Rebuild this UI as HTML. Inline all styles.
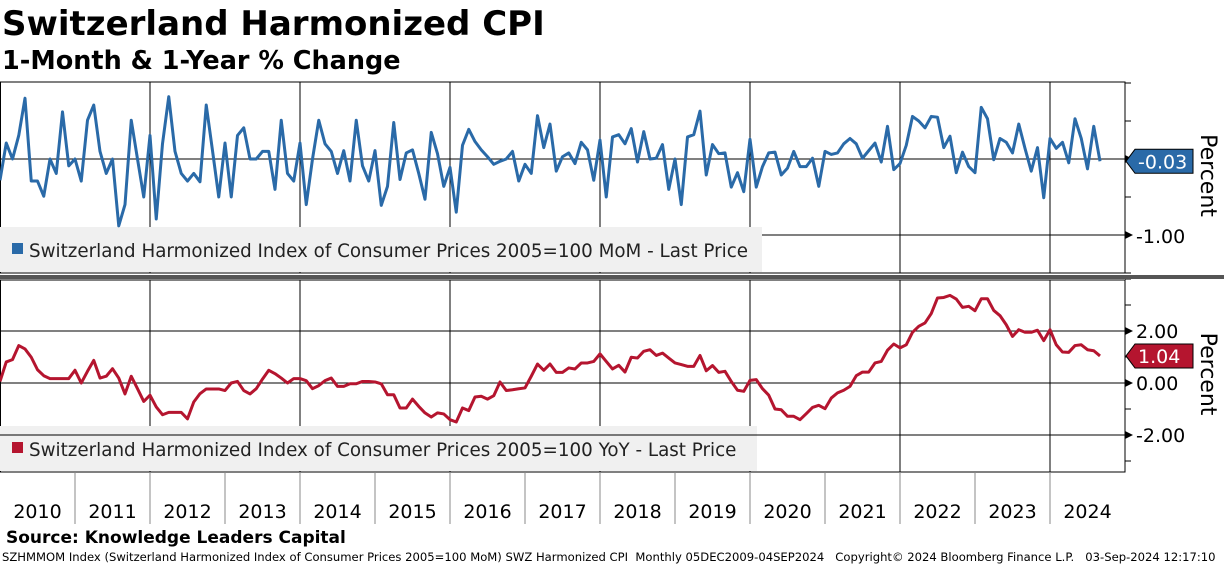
<!DOCTYPE html>
<html><head><meta charset="utf-8">
<style>
html,body{margin:0;padding:0;background:#fff;width:1224px;height:566px;overflow:hidden}
svg{display:block}
text{font-family:"DejaVu Sans","Liberation Sans",sans-serif}
</style></head>
<body>
<svg id="chart" width="1224" height="566" viewBox="0 0 1224 566" xmlns="http://www.w3.org/2000/svg">
<text x="2" y="35" font-size="34" font-weight="bold" fill="#000">Switzerland Harmonized CPI</text>
<text x="2" y="69" font-size="25.5" font-weight="bold" fill="#000">1-Month &amp; 1-Year % Change</text>
<g id="topPanel"></g>
<g id="botPanel"></g>
<rect x="0" y="275" width="1224" height="4" fill="#555"/>
<g id="xaxis"></g>
<text x="6" y="543" font-size="17" font-weight="bold" fill="#000">Source: Knowledge Leaders Capital</text>
<text x="2" y="561" font-size="11.6" fill="#000" style="white-space:pre" xml:space="preserve">SZHMMOM Index (Switzerland Harmonized Index of Consumer Prices 2005=100 MoM) SWZ Harmonized CPI  Monthly 05DEC2009-04SEP2024   Copyright© 2024 Bloomberg Finance L.P.   03-Sep-2024 12:17:10</text>
</svg>
<script>
const momValues=[-0.28,0.21,0,0.31,0.80,-0.29,-0.29,-0.49,0,-0.19,0.62,-0.09,0,-0.29,0.51,0.71,0.1,-0.19,0,-0.88,-0.6,0.51,0,-0.5,0.31,-0.79,0.2,0.82,0.1,-0.19,-0.29,-0.19,-0.3,0.71,0.11,-0.5,0.21,-0.5,0.31,0.41,0,0,0.1,0.1,-0.4,0.51,-0.19,-0.29,0.21,-0.6,0,0.51,0.2,0.1,-0.19,0.11,-0.29,0.51,-0.09,-0.29,0.11,-0.61,-0.36,0.48,-0.27,0.08,0.12,-0.19,-0.53,0.35,0.07,-0.36,-0.11,-0.7,0.18,0.39,0.23,0.12,0.03,-0.07,-0.03,0,0.1,-0.29,-0.07,-0.19,0.57,0.15,0.46,-0.16,0.03,0.08,-0.06,0.22,0.12,-0.28,0.25,-0.5,0.29,0.32,0.2,0.4,-0.04,0.36,0,0.01,0.19,-0.4,0,-0.6,0.29,0.32,0.63,-0.21,0.19,0.07,0.08,-0.37,-0.18,-0.43,0.26,-0.37,-0.1,0.08,0.09,-0.21,-0.12,0.1,-0.1,-0.1,0.01,-0.36,0.1,0.06,0.08,0.2,0.27,0.2,0.01,0.11,0.21,-0.04,0.43,-0.14,-0.06,0.18,0.56,0.5,0.41,0.56,0.55,0.15,0.3,-0.18,0.09,-0.1,-0.18,0.68,0.53,-0.01,0.27,0.22,0.08,0.46,0.14,-0.16,0.15,-0.51,0.27,0.14,0.22,-0.05,0.53,0.27,-0.13,0.43,-0.03];
const yoyValues=[0.06,0.81,0.9,1.44,1.31,0.99,0.51,0.28,0.17,0.17,0.17,0.17,0.49,0,0.45,0.87,0.19,0.26,0.55,0.19,-0.42,0.26,-0.22,-0.71,-0.47,-0.92,-1.22,-1.13,-1.13,-1.13,-1.38,-0.73,-0.41,-0.23,-0.23,-0.23,-0.29,0,0.06,-0.29,-0.42,-0.22,0.15,0.49,0.36,0.19,0,0.17,0.17,0.09,-0.22,-0.1,0.09,0.19,-0.13,-0.13,-0.03,-0.03,0.06,0.06,0.04,-0.03,-0.45,-0.45,-0.96,-0.96,-0.62,-0.9,-1.15,-1.31,-1.15,-1.19,-1.41,-1.5,-0.96,-1.06,-0.54,-0.51,-0.62,-0.49,0.04,-0.29,-0.26,-0.22,-0.19,0.26,0.73,0.49,0.73,0.41,0.41,0.58,0.54,0.77,0.77,0.83,1.12,0.83,0.54,0.68,0.42,0.99,0.96,1.22,1.28,1.06,1.15,0.96,0.77,0.71,0.64,0.64,1.06,0.47,0.67,0.41,0.45,0.06,-0.28,-0.32,0.1,0.13,-0.22,-0.47,-1.0,-1.03,-1.28,-1.28,-1.41,-1.18,-0.94,-0.86,-0.99,-0.58,-0.38,-0.28,-0.13,0.28,0.42,0.42,0.77,0.83,1.26,1.5,1.35,1.47,1.95,2.18,2.31,2.67,3.27,3.29,3.37,3.23,2.91,2.95,2.78,3.24,3.24,2.79,2.59,2.24,1.79,2.05,1.95,1.95,2.03,1.63,2.05,1.47,1.19,1.18,1.44,1.47,1.28,1.24,1.04];
const yearLabels=["2010","2011","2012","2013","2014","2015","2016","2017","2018","2019","2020","2021","2022","2023","2024"];
const momTicks=[-1.00];
const yoyTicks=[2.00,0.00,-2.00];

const NS="http://www.w3.org/2000/svg";
const PW=1125;
function xOf(i){return i*75/12;}
function yTop(v){return 159-v*76;}
function yBot(v){return 383-v*26;}
function mk(tag,attrs,parent){const e=document.createElementNS(NS,tag);for(const k in attrs)e.setAttribute(k,attrs[k]);parent.appendChild(e);return e;}

function panel(g,y0,y1,yFn,minorVals,tickVals,values,color,legend,legY,legW,lastLabel,clipId){
  const r=mk('rect',{x:0.5,y:y0,width:PW-0.5,height:y1-y0,fill:'#fff',stroke:'#000','stroke-width':1},g);
  
  
  for(let k=2;k<=14;k+=2){
    const l=mk('line',{x1:k*75,x2:k*75,y1:y0,y2:y1,stroke:'#000','stroke-width':1},g);
    
    
  }
  minorVals.forEach(v=>{
    const y=yFn(v);
    const t=mk('line',{x1:PW,x2:PW+6,y1:y,y2:y,stroke:'#000'},g);
    
    
  });
  const lb=mk('rect',{x:0,y:legY,width:legW,height:y1-legY-1,fill:'#f0f0f0'},g);
  
  
  tickVals.forEach(v=>{
    const y=yFn(v);
    const gl=mk('line',{x1:0,x2:PW,y1:y,y2:y,stroke:'#000','stroke-width':1},g);
    
    
    const a=mk('polygon',{points:`${PW},${y-4} ${PW+8},${y} ${PW},${y+4}`,fill:'#000'},g);
    
    
  });
  const pts=values.map((v,i)=>xOf(i).toFixed(2)+','+yFn(v).toFixed(2)).join(' ');
  const pl=mk('polyline',{points:pts,fill:'none',stroke:color,'stroke-width':3,'stroke-linejoin':'round','clip-path':'url(#'+clipId+')'},g);
  
  
  const sw=mk('rect',{x:12,y:legY+16,width:11,height:11,fill:color},g);
  
  
  const lt=mk('text',{x:29,y:legY+30,'font-size':18.3,fill:'#222'},g);
  lt.textContent=legend;
  
  
  tickVals.forEach(v=>{
    if(Math.abs(v)<1e-9 && g.id==='topPanel') return;
    const tl=mk('text',{x:PW+11,y:yFn(v)+7,'font-size':19,fill:'#000'},g);
    tl.textContent=(v<0?'-':'')+Math.abs(v).toFixed(2);
    
    
  });
  const last=values[values.length-1];
  const ly=yFn(last);
  const bx=mk('polygon',{points:`${PW+1},${ly} ${PW+10},${ly-12} ${PW+68},${ly-12} ${PW+68},${ly+12} ${PW+10},${ly+12}`,fill:color,stroke:'#000','stroke-width':1},g);
  
  
  const bt=mk('text',{x:PW+13,y:ly+7,'font-size':19,fill:'#fff'},g);
  bt.textContent=lastLabel;
  
  
  const yc=(y0+y1)/2-2;
  const at=mk('text',{x:0,y:0,'font-size':22,fill:'#000','text-anchor':'middle',transform:`translate(1201,${yc}) rotate(90)`},g);
  at.textContent='Percent';
  
  
}

const svgRoot=document.getElementById('chart');
const defs=mk('defs',{},svgRoot);
const cpT=mk('clipPath',{id:'cpT'},defs);mk('rect',{x:0,y:82,width:PW,height:191},cpT);
const cpB=mk('clipPath',{id:'cpB'},defs);mk('rect',{x:0,y:280,width:PW,height:192},cpB);

const topG=document.getElementById('topPanel');
panel(topG,82,273,yTop,[1,0.5,0,-0.5,-1,-1.5],[0],momValues,'#2a6aa8','Switzerland Harmonized Index of Consumer Prices 2005=100 MoM - Last Price',227,762,momValues[momValues.length-1].toFixed(2),'cpT');
momTicks.forEach(v=>{
  const y=yTop(v);
  const gl=mk('line',{x1:762,x2:PW,y1:y,y2:y,stroke:'#000'},topG);
  
  
  const a=mk('polygon',{points:`${PW},${y-4} ${PW+8},${y} ${PW},${y+4}`,fill:'#000'},topG);
  
  
  const tl=mk('text',{x:PW+11,y:y+8,'font-size':19,fill:'#000'},topG);
  tl.textContent=v.toFixed(2);
  
  
});
const botG=document.getElementById('botPanel');
panel(botG,280,472,yBot,[4,3,1,-1,-3],yoyTicks,yoyValues,'#b5152f','Switzerland Harmonized Index of Consumer Prices 2005=100 YoY - Last Price',426,757,yoyValues[yoyValues.length-1].toFixed(2),'cpB');

const xa=document.getElementById('xaxis');
for(let k=1;k<=14;k++){
  const l=mk('line',{x1:k*75,x2:k*75,y1:472,y2:524,stroke:'#888','stroke-width':1},xa);
  
  
}
yearLabels.forEach((lab,i)=>{
  const t=mk('text',{x:xOf(i*12)+37.5,y:518,'font-size':19,fill:'#000','text-anchor':'middle'},xa);
  t.textContent=lab;
  
  
});
</script>
</body></html>
